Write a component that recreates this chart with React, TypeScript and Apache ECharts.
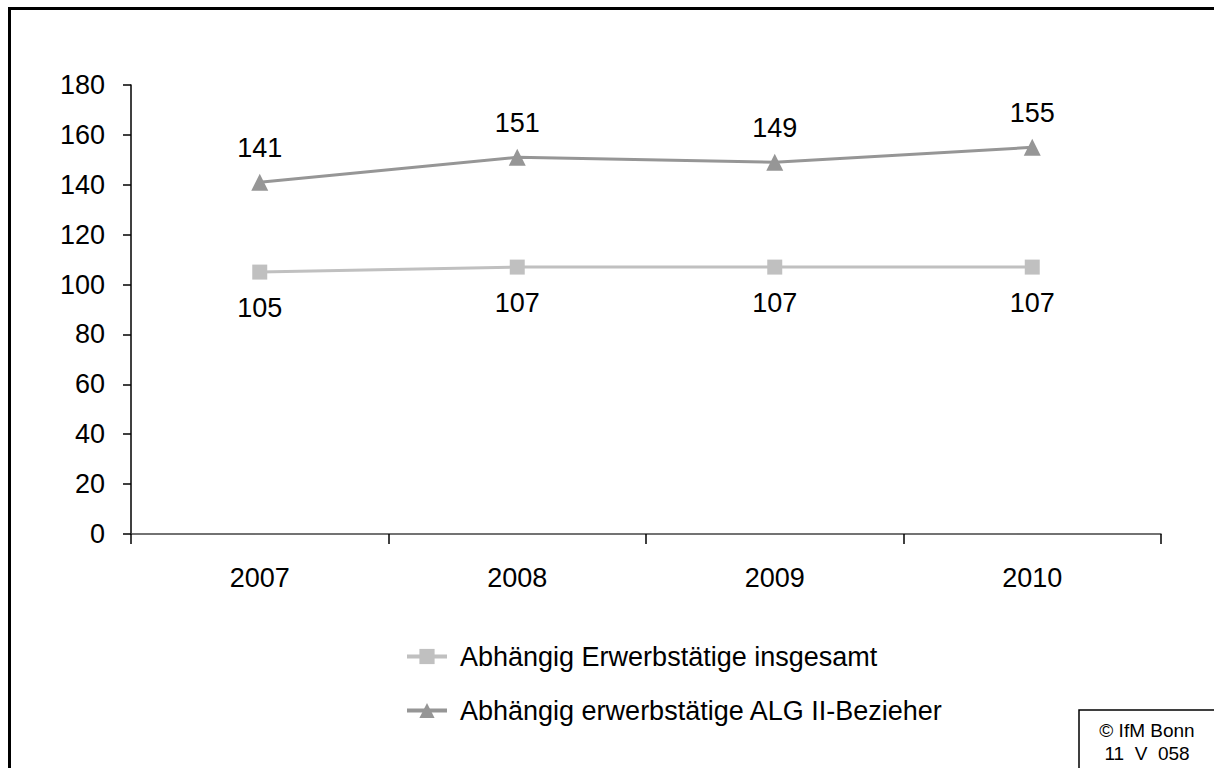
import React, { useEffect, useRef } from "react";
import * as echarts from "echarts";

const years = ["2007", "2008", "2009", "2010"];
const totalEmployed = [105, 107, 107, 107];
const alg2Employed = [141, 151, 149, 155];
const seriesNames = ["Abhängig Erwerbstätige insgesamt", "Abhängig erwerbstätige ALG II-Bezieher"];
const copyrightLines = ["© IfM Bonn", "11  V  058"];

const FONT = "'Liberation Sans', Arial, sans-serif";
const FS = 27;

export default function App() {
  const ref = useRef<HTMLDivElement>(null);
  useEffect(() => {
    if (!ref.current) return;
    const chart = echarts.init(ref.current, undefined, { renderer: "svg" });
    chart.setOption({
      animation: false,
      backgroundColor: "#ffffff",
      textStyle: { fontFamily: FONT },
      grid: { left: 131, top: 85, right: 53, bottom: 234, containLabel: false },
      xAxis: {
        type: "category",
        data: years,
        boundaryGap: true,
        axisLine: { lineStyle: { color: "#444", width: 1.5 } },
        axisTick: { show: true, length: 10, lineStyle: { color: "#000", width: 1.5 }, alignWithLabel: false },
        axisLabel: { color: "#000", fontSize: FS, fontFamily: FONT, margin: 30 },
        splitLine: { show: false },
      },
      yAxis: {
        type: "value",
        min: 0,
        max: 180,
        interval: 20,
        axisLine: { show: true, lineStyle: { color: "#000", width: 1.5 } },
        axisTick: { show: true, length: 8, lineStyle: { color: "#000", width: 1.5 } },
        axisLabel: { color: "#000", fontSize: FS, fontFamily: FONT, margin: 26 },
        splitLine: { show: false },
      },
      legend: {
        orient: "vertical",
        left: 400,
        top: 638,
        itemWidth: 40,
        itemHeight: 19,
        itemGap: 27,
        lineStyle: { width: 4 },
        textStyle: { color: "#000", fontSize: FS, fontFamily: FONT, padding: [0, 0, 0, 8] },
        data: seriesNames,
      },
      series: [
        {
          name: seriesNames[0],
          type: "line",
          data: totalEmployed,
          symbol: "rect",
          symbolSize: 15,
          color: "#c0c0c0",
          lineStyle: { color: "#c0c0c0", width: 3 },
          itemStyle: { color: "#c0c0c0" },
          label: {
            show: true,
            position: "bottom",
            distance: 15,
            color: "#000",
            fontSize: FS,
            fontFamily: FONT,
          },
        },
        {
          name: seriesNames[1],
          type: "line",
          data: alg2Employed,
          symbol: "triangle",
          symbolSize: 17,
          color: "#969696",
          lineStyle: { color: "#969696", width: 3 },
          itemStyle: { color: "#969696" },
          label: {
            show: true,
            position: "top",
            distance: 12,
            color: "#000",
            fontSize: FS,
            fontFamily: FONT,
          },
        },
      ],
      graphic: [
        {
          type: "polyline",
          shape: { points: [[9.5, 800], [9.5, 8.5], [1230, 8.5]] },
          style: { stroke: "#000", lineWidth: 3, fill: null },
          silent: true,
        },
        {
          type: "polyline",
          shape: { points: [[1079, 800], [1079, 710], [1230, 710]] },
          style: { stroke: "#000", lineWidth: 1.5, fill: null },
          silent: true,
        },
        {
          type: "text",
          x: 1147,
          y: 730,
          style: { text: copyrightLines[0], fill: "#000", font: `19px ${FONT}`, align: "center", verticalAlign: "middle" },
        },
        {
          type: "text",
          x: 1147,
          y: 753,
          style: { text: copyrightLines[1], fill: "#000", font: `19px ${FONT}`, align: "center", verticalAlign: "middle" },
        },
      ],
    });
    return () => chart.dispose();
  }, []);
  return (
    <div
      ref={ref}
      style={{ position: "fixed", left: 0, top: 0, width: 1214, height: 768, background: "#fff" }}
    />
  );
}
